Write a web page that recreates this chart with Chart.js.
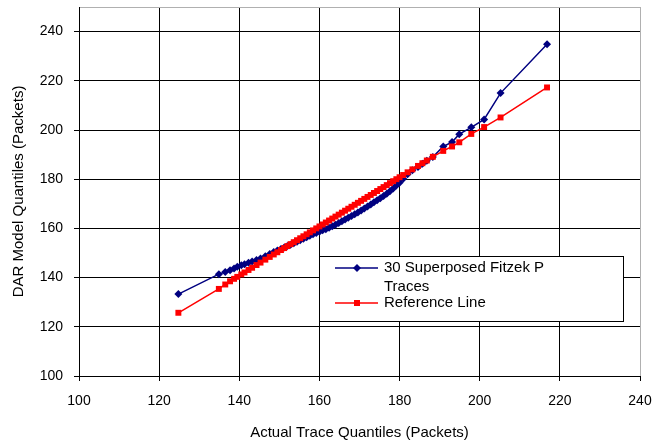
<!DOCTYPE html>
<html>
<head>
<meta charset="utf-8">
<script src="https://cdn.jsdelivr.net/npm/chart.js@4.4.0/dist/chart.umd.min.js"></script>
<style>
    html, body { margin: 0; padding: 0; background: #fff; }
    #wrap { width: 656px; height: 443px; }
</style>
</head>
<body>
<div id="wrap"><canvas id="qqChart" width="656" height="443"></canvas></div>
<script>
// Actual trace quantiles (shared x values)
const actualQuantiles = [
    124.8, 134.9, 136.5, 137.7, 138.7, 139.5, 140.5, 141.3, 142.3, 143.2,
    144.3, 145.3, 146.5, 147.6, 148.6, 149.5, 150.4, 151.2, 152.0, 152.8,
    153.6, 154.4, 155.2, 156.0, 156.8, 157.6, 158.4, 159.2, 160.0, 160.8,
    161.6, 162.4, 163.2, 164.0, 164.8, 165.6, 166.4, 167.2, 168.0, 168.8,
    169.6, 170.4, 171.2, 172.0, 172.8, 173.6, 174.4, 175.2, 176.0, 176.8,
    177.6, 178.4, 179.2, 180.0, 180.9, 182.0, 183.2, 184.6, 185.7, 186.8,
    188.3, 190.9, 193.1, 194.9, 197.9, 201.1, 205.2, 216.8
];
// DAR model quantiles
const darQuantiles = [
    133.3, 141.4, 142.3, 143.0, 143.7, 144.4, 145.0, 145.4, 146.0, 146.5,
    147.2, 147.8, 148.7, 149.6, 150.4, 151.0, 151.6, 152.2, 152.8, 153.4,
    154.0, 154.6, 155.2, 155.8, 156.4, 157.0, 157.6, 158.1, 158.6, 159.2,
    159.7, 160.3, 160.9, 161.5, 162.2, 162.9, 163.6, 164.3, 165.0, 165.8,
    166.5, 167.3, 168.1, 168.9, 169.7, 170.6, 171.4, 172.3, 173.2, 174.1,
    175.1, 176.2, 177.4, 178.6, 180.2, 182.0, 183.6, 185.0, 186.3, 187.5,
    189.0, 193.3, 195.1, 198.3, 201.1, 204.3, 215.0, 234.9
];
// Reference line values
const referenceLine = [
    125.7, 135.4, 137.2, 138.5, 139.5, 140.3, 141.3, 142.1, 143.1, 144.0,
    145.1, 146.1, 147.3, 148.4, 149.4, 150.3, 151.2, 152.0, 152.8, 153.6,
    154.4, 155.2, 156.0, 156.8, 157.6, 158.4, 159.2, 160.0, 160.8, 161.6,
    162.4, 163.2, 164.0, 164.8, 165.6, 166.4, 167.2, 168.0, 168.8, 169.6,
    170.4, 171.2, 172.0, 172.8, 173.6, 174.4, 175.2, 176.0, 176.8, 177.6,
    178.4, 179.2, 180.0, 180.8, 181.7, 182.8, 184.0, 185.4, 186.5, 187.6,
    189.1, 191.5, 193.3, 195.0, 198.4, 201.2, 205.1, 217.3
];
const seriesNames = ['30 Superposed Fitzek P Traces', 'Reference Line'];
const legendLines = [['30 Superposed Fitzek P', 'Traces'], ['Reference Line']];

const FONT = 'Liberation Sans, Arial, sans-serif';
const NAVY = '#000080';
const RED = '#ff0000';

function toPoints(ys) {
    return actualQuantiles.map((x, i) => ({ x: x, y: ys[i] }));
}

// no extra room for half tick labels, the layout padding decides the plot box
function noScalePadding(s) {
    s.paddingTop = 0;
    s.paddingBottom = 0;
    s.paddingLeft = 0;
    s.paddingRight = 0;
}

// Excel-style legend box drawn inside the plot
const boxLegend = {
    id: 'boxLegend',
    afterDraw(chart) {
        const ctx = chart.ctx;
        ctx.save();
        ctx.fillStyle = '#fff';
        ctx.fillRect(319.5, 256.5, 304, 65);
        ctx.strokeStyle = '#000';
        ctx.lineWidth = 1;
        ctx.strokeRect(319.5, 256.5, 304, 65);

        const rows = [
            { color: NAVY, y: 268, marker: 'diamond', lines: legendLines[0] },
            { color: RED, y: 303, marker: 'square', lines: legendLines[1] }
        ];
        ctx.font = '15px ' + FONT;
        ctx.textBaseline = 'middle';
        rows.forEach(r => {
            ctx.strokeStyle = r.color;
            ctx.lineWidth = 1.5;
            ctx.beginPath();
            ctx.moveTo(335, r.y);
            ctx.lineTo(378, r.y);
            ctx.stroke();
            ctx.fillStyle = r.color;
            ctx.beginPath();
            if (r.marker === 'diamond') {
                ctx.moveTo(357, r.y - 4);
                ctx.lineTo(361, r.y);
                ctx.lineTo(357, r.y + 4);
                ctx.lineTo(353, r.y);
                ctx.closePath();
            } else {
                ctx.rect(354, r.y - 3, 6, 6);
            }
            ctx.fill();
            ctx.fillStyle = '#000';
            r.lines.forEach((t, i) => ctx.fillText(t, 384, r.y + i * 18.5));
        });
        ctx.restore();
    }
};

const ctx = document.getElementById('qqChart').getContext('2d');
new Chart(ctx, {
    type: 'scatter',
    data: {
        datasets: [{
            label: seriesNames[0],
            data: toPoints(darQuantiles),
            showLine: true,
            borderColor: NAVY,
            backgroundColor: NAVY,
            borderWidth: 1.5,
            pointStyle: 'rectRot',
            pointRadius: 4,
            pointBorderWidth: 0,
            order: 1
        }, {
            label: seriesNames[1],
            data: toPoints(referenceLine),
            showLine: true,
            borderColor: RED,
            backgroundColor: RED,
            borderWidth: 1.5,
            pointStyle: 'rect',
            pointRadius: 4.2,
            pointBorderWidth: 0,
            order: 0
        }]
    },
    options: {
        responsive: false,
        animation: false,
        layout: { padding: { top: 7, right: 16, left: 0, bottom: 0 } },
        plugins: {
            legend: { display: false },
            tooltip: { enabled: false }
        },
        scales: {
            x: {
                type: 'linear',
                min: 100,
                max: 240,
                afterFit: s => { s.height = 67; noScalePadding(s); },
                ticks: {
                    stepSize: 20,
                    padding: 12,
                    color: '#000',
                    font: { family: FONT, size: 14 }
                },
                grid: {
                    color: c => c.tick && c.tick.value === 240 ? '#b0b0b0' : '#000',
                    tickColor: '#000',
                    tickLength: 5,
                    lineWidth: 1
                },
                border: { color: '#000', width: 1 },
                title: {
                    display: true,
                    text: 'Actual Trace Quantiles (Packets)',
                    color: '#000',
                    font: { family: FONT, size: 15 },
                    padding: { top: 0, bottom: 1 }
                }
            },
            y: {
                type: 'linear',
                min: 100,
                max: 250,
                afterFit: s => { s.width = 79; noScalePadding(s); },
                ticks: {
                    stepSize: 20,
                    padding: 11,
                    color: '#000',
                    font: { family: FONT, size: 14 },
                    callback: v => v === 250 ? '' : v
                },
                grid: {
                    color: c => c.tick && c.tick.value === 250 ? '#b0b0b0' : '#000',
                    tickColor: c => c.tick && c.tick.value === 250 ? 'rgba(0,0,0,0)' : '#000',
                    tickLength: 5,
                    lineWidth: 1
                },
                border: { color: '#000', width: 1 },
                title: {
                    display: true,
                    text: 'DAR Model Quantiles (Packets)',
                    color: '#000',
                    font: { family: FONT, size: 15 },
                    padding: { top: 10, bottom: 0 }
                }
            }
        }
    },
    plugins: [boxLegend]
});
</script>
</body>
</html>
